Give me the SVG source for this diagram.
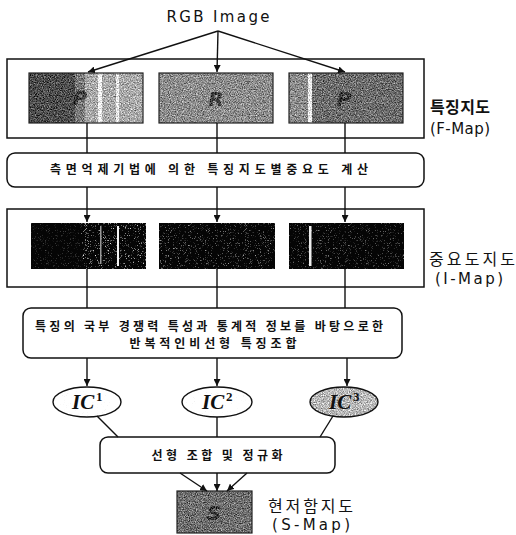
<svg xmlns="http://www.w3.org/2000/svg" width="516" height="535" viewBox="0 0 516 535">
<style>
.box{fill:#fff;stroke:#111;stroke-width:1.5}
.rbox{fill:#fff;stroke:#111;stroke-width:1.5}
.ln{stroke:#111;stroke-width:1.4;fill:none}
.arr{stroke:#111;stroke-width:1.4;fill:none;marker-end:url(#ah)}
.kt{font-family:"Noto Sans CJK KR","Noto Sans",sans-serif;font-weight:bold;font-size:12px;fill:#111}
.lab{font-family:"Noto Sans CJK KR","DejaVu Sans",sans-serif;font-size:16px;fill:#111}
.en{font-family:"DejaVu Sans","Noto Sans CJK KR",sans-serif;font-size:15px;fill:#111}
.ic{font-family:"Liberation Serif","DejaVu Serif",serif;font-weight:bold;font-style:italic;font-size:21px;fill:#111}
.sup{font-family:"Liberation Serif","DejaVu Serif",serif;font-weight:bold;font-size:13px;fill:#111}
.ltr{font-family:"DejaVu Sans",sans-serif;font-weight:bold;font-style:italic;font-size:20px;fill:#1a1a1a;opacity:0.7}
.imgb{fill:none;stroke:#222;stroke-width:1.2}
</style>
<defs>
<marker id="ah" viewBox="0 0 10 10" refX="10" refY="5" markerWidth="7" markerHeight="7" markerUnits="userSpaceOnUse" orient="auto">
<path d="M0,0 L10,5 L0,10 z" fill="#111"/>
</marker>
<filter id="grain" x="0" y="0" width="1" height="1" color-interpolation-filters="sRGB">
<feTurbulence type="fractalNoise" baseFrequency="0.85" numOctaves="2" seed="7" result="t"/>
<feColorMatrix in="t" type="matrix" values="1 0 0 0 0  1 0 0 0 0  1 0 0 0 0  0 0 0 0 1" result="g"/>
<feComposite in="SourceGraphic" in2="g" operator="arithmetic" k1="0" k2="1" k3="1.0" k4="-0.5" result="c"/>
<feComposite in="c" in2="SourceAlpha" operator="in"/>
</filter>
<filter id="grainL" x="0" y="0" width="1" height="1" color-interpolation-filters="sRGB">
<feTurbulence type="fractalNoise" baseFrequency="0.9" numOctaves="2" seed="3" result="t"/>
<feColorMatrix in="t" type="matrix" values="1 0 0 0 0  1 0 0 0 0  1 0 0 0 0  0 0 0 0 1" result="g"/>
<feComposite in="SourceGraphic" in2="g" operator="arithmetic" k1="0" k2="1" k3="0.3" k4="-0.1" result="c"/>
<feComposite in="c" in2="SourceAlpha" operator="in"/>
</filter>
<filter id="speck" x="0" y="0" width="1" height="1" color-interpolation-filters="sRGB">
<feTurbulence type="fractalNoise" baseFrequency="1.6" numOctaves="1" seed="2" result="t"/>
<feColorMatrix in="t" type="matrix" values="0 0 0 0 1  0 0 0 0 1  0 0 0 0 1  1 0 0 0 0" result="a"/>
<feComponentTransfer in="a" result="d"><feFuncA type="linear" slope="5" intercept="-2.95"/></feComponentTransfer>
<feComposite in="d" in2="SourceGraphic" operator="in"/>
</filter>
</defs>

<text x="218" y="22" text-anchor="middle" class="en" font-size="16" textLength="103" lengthAdjust="spacing">RGB Image</text>

<g id="fmap">
<rect class="box" x="7" y="59" width="417" height="79"/>
<g id="f1">
<g filter="url(#grain)">
<rect x="29" y="73" width="114" height="50" fill="#a9a9a9"/>
<rect x="29" y="73" width="46" height="50" fill="#4c4c4c"/>
<rect x="75" y="73" width="10" height="50" fill="#7a7a7a"/>
<rect x="98" y="73" width="4" height="50" fill="#f2f2f2"/>
<rect x="116" y="73" width="3" height="50" fill="#eeeeee"/>
<text x="80" y="105" text-anchor="middle" class="ltr">P</text>
</g>
<rect class="imgb" x="29" y="73" width="114" height="50"/>
</g>
<g id="f2">
<g filter="url(#grain)">
<rect x="159" y="73" width="114" height="50" fill="#8c8c8c"/>
<text x="216" y="106" text-anchor="middle" class="ltr">R</text>
</g>
<rect class="imgb" x="159" y="73" width="114" height="50"/>
</g>
<g id="f3">
<g filter="url(#grain)">
<rect x="289" y="73" width="114" height="50" fill="#6c6c6c"/>
<rect x="289" y="73" width="20" height="50" fill="#8a8a8a"/>
<rect x="308" y="73" width="4" height="50" fill="#f0f0f0"/>
<text x="344" y="106" text-anchor="middle" class="ltr">P</text>
</g>
<rect class="imgb" x="289" y="73" width="114" height="50"/>
</g>
</g>
<g id="fmap-label">
<text x="430" y="113" class="lab" font-weight="bold" textLength="60" lengthAdjust="spacing">특징지도</text>
<text x="430" y="134" class="en" textLength="60" lengthAdjust="spacing">(F-Map)</text>
</g>

<g id="step1">
<rect class="rbox" x="7" y="153" width="417" height="34" rx="8"/>
<text x="209" y="174" text-anchor="middle" class="kt" textLength="318" lengthAdjust="spacing">측면억제기법에 의한 특징지도별중요도 계산</text>
</g>

<g id="imap">
<rect class="box" x="7" y="209" width="417" height="78"/>
<g id="i1">
<rect x="31" y="223" width="115" height="46" fill="#050505"/>
<rect x="31" y="223" width="50" height="46" fill="#fff" fill-opacity="0.3" filter="url(#speck)"/>
<rect x="81" y="223" width="65" height="46" fill="#fff" fill-opacity="0.9" filter="url(#speck)"/>
<rect x="117" y="226" width="2" height="40" fill="#f4f4f4"/>
<rect x="100" y="226" width="1.5" height="38" fill="#999"/>
</g>
<g id="i2">
<rect x="159" y="223" width="116" height="46" fill="#050505"/>
<rect x="159" y="223" width="116" height="46" fill="#fff" fill-opacity="0.6" filter="url(#speck)"/>
</g>
<g id="i3">
<rect x="289" y="223" width="115" height="46" fill="#050505"/>
<rect x="289" y="223" width="115" height="46" fill="#fff" fill-opacity="0.5" filter="url(#speck)"/>
<rect x="309" y="226" width="2.5" height="40" fill="#eee"/>
</g>
</g>
<g id="imap-label">
<text x="429" y="265" class="lab" textLength="86" lengthAdjust="spacing">중요도지도</text>
<text x="435" y="284" class="en" textLength="68" lengthAdjust="spacing">(I-Map)</text>
</g>

<g id="step2">
<rect class="rbox" x="23" y="308" width="379" height="50" rx="8"/>
<text x="209" y="331" text-anchor="middle" class="kt" textLength="348" lengthAdjust="spacing">특징의 국부 경쟁력 특성과 통계적 정보를 바탕으로한</text>
<text x="213" y="348" text-anchor="middle" class="kt" textLength="167" lengthAdjust="spacing">반복적인비선형 특징조합</text>
</g>

<g id="ic1">
<ellipse cx="87" cy="402" rx="34" ry="15" fill="#ffffff" filter="url(#grainL)"/>
<ellipse cx="87" cy="402" rx="34" ry="15" fill="none" stroke="#111" stroke-width="1.4"/>
<text x="72" y="409" class="ic">IC</text><text x="96" y="401" class="sup">1</text>
</g>
<g id="ic2">
<ellipse cx="217" cy="402" rx="35" ry="15" fill="#ffffff" filter="url(#grainL)"/>
<ellipse cx="217" cy="402" rx="35" ry="15" fill="none" stroke="#111" stroke-width="1.4"/>
<text x="202" y="409" class="ic">IC</text><text x="226" y="401" class="sup">2</text>
</g>
<g id="ic3">
<ellipse cx="344" cy="402" rx="34" ry="15" fill="#b8b8b8" filter="url(#grain)"/>
<ellipse cx="344" cy="402" rx="34" ry="15" fill="none" stroke="#111" stroke-width="1.4"/>
<text x="329" y="409" class="ic">IC</text><text x="353" y="401" class="sup">3</text>
</g>

<g id="step3">
<rect class="rbox" x="100" y="437" width="235" height="36" rx="8"/>
<text x="217" y="460" text-anchor="middle" class="kt" textLength="131" lengthAdjust="spacing">선형 조합 및 정규화</text>
</g>

<g id="smap">
<g filter="url(#grain)">
<rect x="177" y="491" width="75" height="42" fill="#6e6e6e"/>
<text x="214" y="520" text-anchor="middle" class="ltr" font-size="18">S</text>
</g>
<rect class="imgb" x="177" y="491" width="75" height="42"/>
</g>
<g id="smap-label">
<text x="268" y="512" class="lab" textLength="85" lengthAdjust="spacing">현저함지도</text>
<text x="272" y="530" class="en" textLength="78" lengthAdjust="spacing">(S-Map)</text>
</g>

<g id="connectors">
<line class="arr" x1="218" y1="31" x2="88" y2="72"/>
<line class="arr" x1="218" y1="31" x2="217" y2="72"/>
<line class="arr" x1="218" y1="31" x2="345" y2="72"/>
<line class="ln" x1="87" y1="123" x2="87" y2="153"/>
<line class="ln" x1="217" y1="123" x2="217" y2="153"/>
<line class="ln" x1="345" y1="123" x2="345" y2="153"/>
<line class="arr" x1="87" y1="187" x2="87" y2="222"/>
<line class="arr" x1="217" y1="187" x2="217" y2="222"/>
<line class="arr" x1="345" y1="187" x2="345" y2="222"/>
<line class="ln" x1="87" y1="269" x2="87" y2="308"/>
<line class="ln" x1="217" y1="269" x2="217" y2="308"/>
<line class="ln" x1="345" y1="269" x2="345" y2="308"/>
<line class="arr" x1="87" y1="358" x2="87" y2="386"/>
<line class="arr" x1="217" y1="358" x2="217" y2="386"/>
<line class="arr" x1="347" y1="358" x2="347" y2="386"/>
<line class="ln" x1="97" y1="416" x2="118" y2="437"/>
<line class="ln" x1="217" y1="417" x2="217" y2="437"/>
<line class="ln" x1="333" y1="416" x2="320" y2="437"/>
<line class="arr" x1="180" y1="473" x2="207" y2="491"/>
<line class="arr" x1="217" y1="473" x2="217" y2="491"/>
<line class="arr" x1="247" y1="473" x2="227" y2="491"/>
</g>
</svg>
